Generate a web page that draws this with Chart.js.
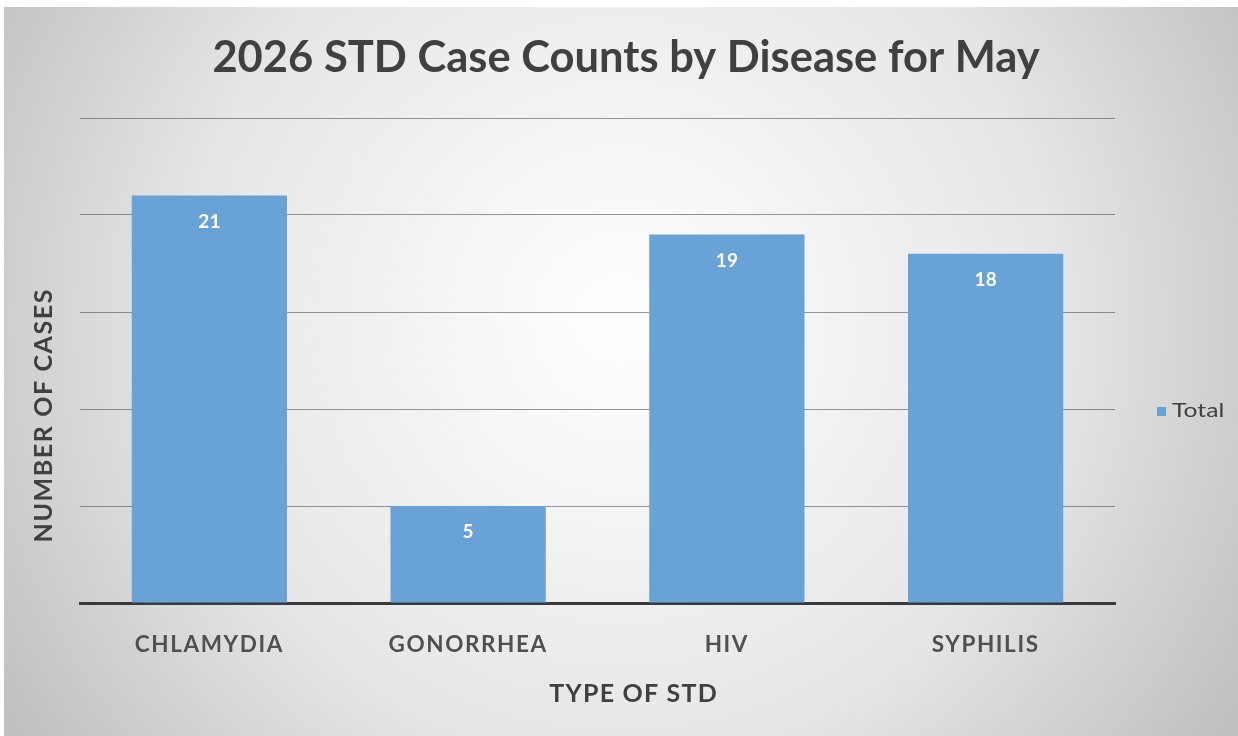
<!DOCTYPE html>
<html>
<head>
<meta charset="utf-8">
<script src="https://cdn.jsdelivr.net/npm/chart.js@4"></script>
<style>
  html, body { margin: 0; padding: 0; background: #fff; }
  canvas { display: block; }
</style>
</head>
<body>
<canvas id="stdChart" width="1238" height="736"></canvas>
<script>
var categories = ['CHLAMYDIA', 'GONORRHEA', 'HIV', 'SYPHILIS'];
var totals = [21, 5, 19, 18];
var seriesName = 'Total';
var yTicks = [0, 5, 10, 15, 20, 25];

var FONT = 'Lato, "Open Sans", sans-serif';
var BAR_COLOR = '#68a2d6';
var TEXT_COLOR = '#404040';

// gradient card behind the chart, plus wider letter spacing for the tick labels
var backgroundPlugin = {
    id: 'cardBackground',
    beforeDraw: function(chart) {
        var c = chart.ctx;
        c.fillStyle = '#ffffff';
        c.fillRect(0, 0, chart.width, chart.height);
        var g = c.createRadialGradient(620, 320, 40, 620, 320, 760);
        g.addColorStop(0, '#fdfdfd');
        g.addColorStop(0.55, '#e6e6e6');
        g.addColorStop(1, '#bcbcbc');
        c.fillStyle = g;
        c.fillRect(4, 7, chart.width - 4, chart.height - 7);
        c.letterSpacing = '1.6px';
    }
};

function spacedText(c, text, x, y, spacing) {
    c.letterSpacing = spacing + 'px';
    // letterSpacing adds a trailing gap, shift back half of it to stay centred
    c.fillText(text, x + spacing / 2, y);
    c.letterSpacing = '0px';
}

// title, value labels, axis titles and legend
var extrasPlugin = {
    id: 'extras',
    afterDraw: function(chart) {
        var c = chart.ctx;
        var meta = chart.getDatasetMeta(0);
        c.save();
        c.letterSpacing = '0px';
        c.textAlign = 'center';
        c.textBaseline = 'middle';

        c.fillStyle = TEXT_COLOR;
        c.font = 'bold 43.5px ' + FONT;
        c.fillText('2026 STD Case Counts by Disease for May', 626, 58);

        c.fillStyle = '#ffffff';
        c.font = 'bold 19px ' + FONT;
        meta.data.forEach(function(bar, i) {
            c.fillText(totals[i], bar.x, bar.y + 26);
        });

        c.fillStyle = TEXT_COLOR;
        c.font = 'bold 25px ' + FONT;
        spacedText(c, 'TYPE OF STD', 633, 694, 1.2);

        c.save();
        c.translate(44, 416);
        c.rotate(-Math.PI / 2);
        spacedText(c, 'NUMBER OF CASES', 0, 0, 1.6);
        c.restore();

        // legend
        c.fillStyle = BAR_COLOR;
        c.fillRect(1157, 407, 9, 9);
        c.fillStyle = TEXT_COLOR;
        c.font = '19px ' + FONT;
        c.textAlign = 'left';
        c.translate(1172, 411);
        c.scale(1.3, 1);
        c.fillText(seriesName, 0, 0);
        c.restore();
    }
};

var ctx = document.getElementById('stdChart').getContext('2d');
var stdChart = new Chart(ctx, {
    type: 'bar',
    data: {
        labels: categories,
        datasets: [{
            label: seriesName,
            data: totals,
            backgroundColor: BAR_COLOR,
            borderWidth: 0,
            categoryPercentage: 1.0,
            barPercentage: 0.6
        }]
    },
    options: {
        responsive: false,
        animation: false,
        layout: { padding: { left: 80, right: 123, top: 118, bottom: 58 } },
        plugins: {
            legend: { display: false },
            tooltip: { enabled: false },
            title: { display: false }
        },
        scales: {
            x: {
                grid: { display: false },
                border: { display: true, color: '#3a3a3a', width: 3 },
                ticks: {
                    color: '#505050',
                    padding: 20,
                    font: { family: FONT, size: 22.5, weight: 'bold', lineHeight: 1.2 }
                }
            },
            y: {
                min: 0,
                max: yTicks[yTicks.length - 1],
                afterBuildTicks: function(axis) {
                    axis.ticks = yTicks.map(function(v) { return { value: v }; });
                },
                ticks: { display: false },
                border: { display: false },
                grid: { color: 'rgba(50,50,50,0.5)', lineWidth: 1, drawTicks: false }
            }
        }
    },
    plugins: [backgroundPlugin, extrasPlugin]
});
</script>
</body>
</html>
